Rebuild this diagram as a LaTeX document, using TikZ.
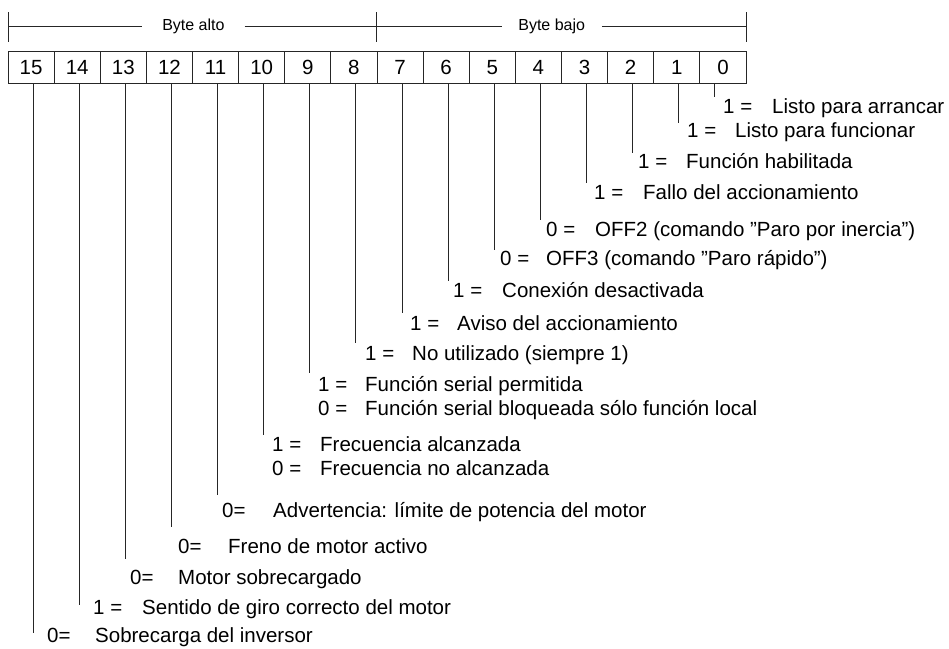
\documentclass[tikz,border=0pt]{standalone}
\usepackage{fontspec}
\setmainfont{Liberation Sans}
\begin{document}
\begin{tikzpicture}[x=1pt,y=-1pt,
  cell/.style={draw=black!85,line width=0.8pt,minimum width=46.125pt,minimum height=32pt,inner sep=0pt,text height=14.7pt,text depth=0pt,font=\fontsize{20.5}{24}\selectfont},
  key/.style={anchor=base west,inner sep=0pt,font=\fontsize{20.5}{24}\selectfont},
  desc/.style={anchor=base west,inner sep=0pt,font=\fontsize{20.5}{24}\selectfont},
  bytelbl/.style={inner ysep=0pt,font=\fontsize{16}{19}\selectfont},
  wire/.style={draw=black!85,line width=0.8pt}]
\useasboundingbox (0,0) rectangle (949,648);

% bit cells
\foreach \b/\k in {15/0,14/1,13/2,12/3,11/4,10/5,9/6,8/7,7/8,6/9,5/10,4/11,3/12,2/13,1/14,0/15}
  \node[cell] (c\b) at ({31.0625+46.125*\k},67) {\b};

% byte brackets
\node[bytelbl,inner xsep=20pt] (balto) at (193.4,26) {Byte alto};
\node[bytelbl,inner xsep=16.5pt] (bbajo) at (551.7,26) {Byte bajo};
\coordinate (tl) at (8,26);
\coordinate (tm) at (376,26);
\coordinate (tr) at (746,26);
\draw[wire] (8,12) -- (8,42);
\draw[wire] (376,12) -- (376,42);
\draw[wire] (746,12) -- (746,42);
\draw[wire] (tl) -- (balto.west);
\draw[wire] (balto.east) -- (tm);
\draw[wire] (tm) -- (bbajo.west);
\draw[wire] (bbajo.east) -- (tr);

% bit legends: bit / line x / line end y / baseline / key x / key / desc x / desc
\foreach \b/\xl/\ye/\yb/\kx/\kt/\dx/\dt in {
  0/714/97/113/723/{1 =}/772/{Listo para arrancar},
  1/678/123/137/687/{1 =}/735/{Listo para funcionar},
  2/632/153/168/638/{1 =}/686/{Función habilitada},
  3/586/183/199/594/{1 =}/643/{Fallo del accionamiento},
  4/540/220/236/546/{0 =}/595/{OFF2 (comando ”Paro por inercia”)},
  5/494/250/265/500/{0 =}/546/{OFF3 (comando ”Paro rápido”)},
  6/448/281/297/453/{1 =}/502/{Conexión desactivada},
  7/402/313/330/410/{1 =}/457/{Aviso del accionamiento},
  8/355/343/360/365/{1 =}/412/{No utilizado (siempre 1)},
  9/309/373/391/318/{1 =}/365/{Función serial permitida},
  10/263/435/451/272/{1 =}/320/{Frecuencia alcanzada},
  11/217/495/517/222/{0=}/273/{Advertencia: límite de potencia del motor},
  12/171/527/553/178/{0=}/228/{Freno de motor activo},
  13/125/559/584/130/{0=}/178/{Motor sobrecargado},
  14/79/605/614/93/{1 =}/142/{Sentido de giro correcto del motor},
  15/33/633/642/47/{0=}/95/{Sobrecarga del inversor}}
{
  \coordinate (e\b) at (\xl,\ye);
  \draw[wire] (c\b.south -| e\b) -- (e\b);
  \node[key] (k\b) at (\kx,\yb) {\kt};
  \node[desc] (d\b) at (\dx,\yb) {\dt};
}

% second lines for bits 9 and 10
\node[key] (k9b) at (318,415) {0 =};
\node[desc] (d9b) at (365,415) {Función serial bloqueada sólo función local};
\node[key] (k10b) at (272,475) {0 =};
\node[desc] (d10b) at (320,475) {Frecuencia no alcanzada};
\end{tikzpicture}
\end{document}
